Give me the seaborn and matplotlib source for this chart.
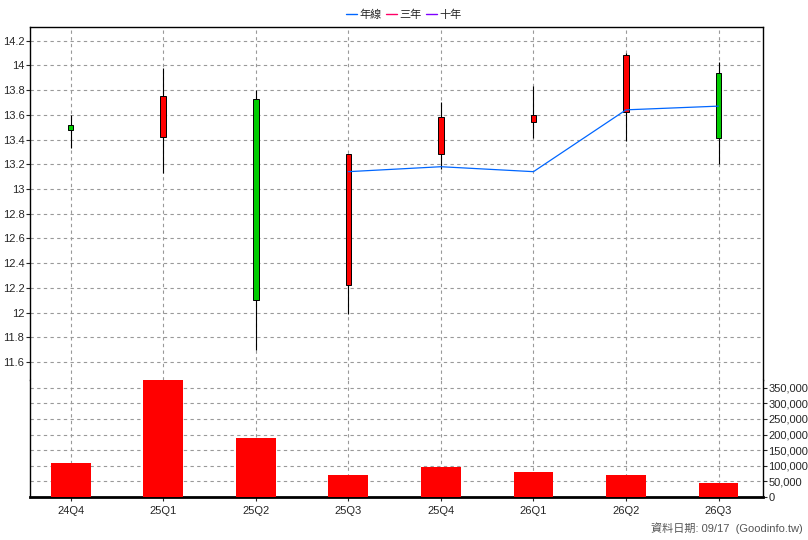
import matplotlib
matplotlib.use("Agg")
import matplotlib.pyplot as plt
import seaborn as sns
import numpy as np
import pandas as pd
from matplotlib.ticker import FuncFormatter, MultipleLocator

sns.set_style("white")
plt.rcParams['font.family'] = ['Liberation Sans', 'Noto Sans CJK TC', 'DejaVu Sans']

quarters = ["24Q4", "25Q1", "25Q2", "25Q3", "25Q4", "26Q1", "26Q2", "26Q3"]
opens  = [13.52, 13.42, 13.73, 12.22, 13.28, 13.54, 13.62, 13.94]
highs  = [13.60, 13.98, 13.80, 13.28, 13.70, 13.83, 14.10, 14.03]
lows   = [13.33, 13.13, 11.70, 11.99, 13.16, 13.41, 13.39, 13.20]
closes = [13.48, 13.75, 12.10, 13.28, 13.58, 13.60, 14.08, 13.41]
volume = [109000, 379000, 189000, 71000, 96000, 80000, 71000, 45000]
year_line_q = ["25Q3", "25Q4", "26Q1", "26Q2", "26Q3"]
year_line = [13.14, 13.18, 13.14, 13.64, 13.67]

fig = plt.figure(figsize=(8.08, 5.4), dpi=100)
axp = fig.add_axes([30/808, 1-380/540, 733/808, 353/540])
axv = fig.add_axes([30/808, 1-497/540, 733/808, 117/540], sharex=axp)

x = np.arange(len(quarters))
grid_kw = dict(color="#999999", linestyle=(0, (3, 3)), linewidth=0.8)

# volume bars
dfv = pd.DataFrame({"q": quarters, "v": volume})
sns.barplot(data=dfv, x="q", y="v", color="#ff0000", saturation=1, width=0.43, ax=axv, zorder=3, linewidth=0)
axv.set_ylim(0, 375000)
axv.yaxis.set_major_locator(MultipleLocator(50000))
axv.yaxis.tick_right()
axv.yaxis.set_major_formatter(FuncFormatter(lambda v, p: f"{int(v):,}"))
axv.set_xlabel(""); axv.set_ylabel("")
axv.grid(True, **grid_kw)
axv.set_axisbelow(True)

# candles
for i in range(len(quarters)):
    up = closes[i] >= opens[i]
    col = "#ff0000" if up else "#00cc00"
    axp.vlines(x[i], lows[i], highs[i], color="black", linewidth=0.8, zorder=3)
    lo, hi = min(opens[i], closes[i]), max(opens[i], closes[i])
    axp.bar(x[i], hi - lo, bottom=lo, width=0.06, color=col, edgecolor="black", linewidth=0.7, zorder=4)

dfl = pd.DataFrame({"x": [quarters.index(q) for q in year_line_q], "y": year_line})
sns.lineplot(data=dfl, x="x", y="y", color="#0066ff", linewidth=0.9, ax=axp, zorder=5)
axp.set_xlabel(""); axp.set_ylabel("")
axp.set_ylim(11.455, 14.31)
axp.yaxis.set_major_locator(MultipleLocator(0.2))
axp.yaxis.set_major_formatter(FuncFormatter(lambda v, p: f"{v:g}"))
axp.set_xlim(-0.44, 7.48)
axp.grid(True, **grid_kw)
axp.set_axisbelow(True)
axp.tick_params(axis="x", which="both", bottom=False, labelbottom=False)
axp.tick_params(axis="y", labelsize=8, length=3, pad=1, direction="out", left=True)

axv.set_xticks(x)
axv.set_xticklabels(quarters)
axv.tick_params(axis="x", labelsize=8, length=3, bottom=True)
axv.tick_params(axis="y", labelsize=8, length=3, pad=1, right=True)

for ax in (axp, axv):
    for s in ax.spines.values():
        s.set_color("black"); s.set_linewidth(1)
axp.spines["bottom"].set_visible(False)
axv.spines["top"].set_visible(False)
axv.spines["bottom"].set_linewidth(2)

# legend
from matplotlib.lines import Line2D
handles = [Line2D([], [], color="#0066ff", lw=1), Line2D([], [], color="#ff0066", lw=1), Line2D([], [], color="#7f00ff", lw=1)]
fig.legend(handles, ["年線", "三年", "十年"], loc="upper center", bbox_to_anchor=(0.5, 1.0), ncol=3,
           frameon=False, fontsize=8, handlelength=1, handletextpad=0.2, columnspacing=0.4)

fig.text(803/808, 1-528/540, "資料日期: 09/17  (Goodinfo.tw)", ha="right", va="center", fontsize=8, color="#555555")

fig.savefig("out.png", dpi=100)
